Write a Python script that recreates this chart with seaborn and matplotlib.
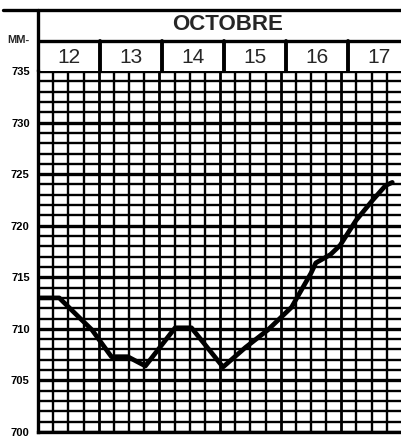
import numpy as np
import matplotlib
matplotlib.use("Agg")
import matplotlib.pyplot as plt
from matplotlib.lines import Line2D
import seaborn as sns

# barometer readings (mm), day position in October
days = [12.0, 12.35, 12.68, 12.89, 13.21, 13.48, 13.77, 14.26, 14.53, 15.05,
        15.42, 15.79, 16.18, 16.50, 16.58, 16.82, 16.98, 17.24, 17.52, 17.73, 17.84]
pressure = [713.0, 713.0, 711.1, 709.9, 707.3, 707.3, 706.4, 710.1, 710.1, 706.3,
            708.2, 709.9, 712.1, 715.4, 716.4, 717.2, 718.1, 720.5, 722.5, 723.9, 724.2]
day_labels = ["12", "13", "14", "15", "16", "17"]
y_ticks = [700, 705, 710, 715, 720, 725, 730, 735]
month = "OCTOBRE"

sns.set_style("white")
plt.rcParams['font.family'] = ['Liberation Sans', 'DejaVu Sans']

fig = plt.figure(figsize=(4.02, 4.37), dpi=100)
W, H = 402, 437
left = 38 / W
ax = fig.add_axes([left, (H - 432) / H, 1 - left, (432 - 71) / H])

x_max = 12 + (402 - 38) / 62
ax.set_xlim(12, x_max)
ax.set_ylim(700, 735)

# grid paper
ax.set_xticks(np.arange(12, 18.01, 1))
ax.set_xticks(np.arange(12, 18.01, 0.25), minor=True)
ax.set_yticks(y_ticks)
ax.set_yticks(np.arange(700, 736, 1), minor=True)
ax.grid(which='minor', color='black', lw=1.7)
ax.grid(which='major', axis='y', color='black', lw=2.4)
ax.grid(which='major', axis='x', color='black', lw=2.0)
ax.set_axisbelow(True)

ax.tick_params(axis='x', which='both', length=0, labelbottom=False)
ax.tick_params(axis='y', which='major', length=5, width=2.2, pad=1,
               labelsize=8, colors='black')
ax.tick_params(axis='y', which='minor', length=0)
for lbl in ax.get_yticklabels():
    lbl.set_fontweight('bold')
for side in ['top', 'right']:
    ax.spines[side].set_visible(False)
for side in ['left', 'bottom']:
    ax.spines[side].set_color('black')
    ax.spines[side].set_linewidth(2.4)

sns.lineplot(x=days, y=pressure, ax=ax, color='black', lw=3.4, legend=False)
ax.set_xlabel("")
ax.set_ylabel("")

# header with month and day labels
hx = fig.add_axes([left, (H - 71) / H, 1 - left, 61 / H])
hx.set_xlim(12, x_max)
hx.set_ylim(0, 1)
hx.axis('off')
hx.text(15.05, 0.76, month, ha='center', va='center', fontsize=16, fontweight='bold')
hx.axhline(0.5, color='black', lw=2.4)
for i, lab in enumerate(day_labels):
    hx.text(12.5 + i, 0.22, lab, ha='center', va='center', fontsize=15)
    if i > 0:
        hx.plot([12 + i, 12 + i], [0, 0.5], color='black', lw=2.8)

fig.add_artist(Line2D([3 / W, 1], [1 - 10 / H, 1 - 10 / H], color='black', lw=2.4))
fig.add_artist(Line2D([left, left], [1 - 10 / H, (H - 71) / H], color='black', lw=2.4))
fig.text(7 / W, 1 - 40 / H, "MM-", fontsize=8, fontweight='bold', va='center')

fig.savefig("out.png", dpi=100)
